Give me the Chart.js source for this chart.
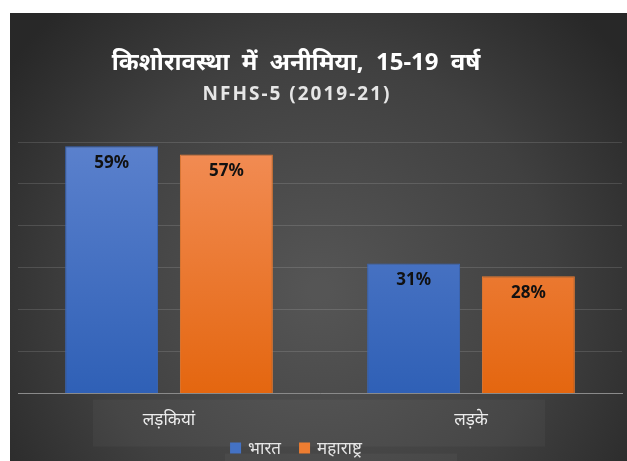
<!DOCTYPE html>
<html>
<head>
<meta charset="utf-8">
<script src="https://cdn.jsdelivr.net/npm/chart.js@4.4.1/dist/chart.umd.min.js"></script>
<style>
  body { margin: 0; background: #fff; }
  #wrap { position: absolute; left: 10px; top: 13px; width: 617px; height: 448px; }
</style>
</head>
<body>
<div id="wrap"><canvas id="chart"></canvas></div>
<script>
// data
const categories = ['लड़कियां', 'लड़के'];
const bharat = [59, 31];
const maharashtra = [57, 28];
const seriesNames = ['भारत', 'महाराष्ट्र'];
const seriesColors = ['#4472c4', '#ed7d31'];
const titleText = 'किशोरावस्था में अनीमिया, 15-19 वर्ष';
const subtitleText = 'NFHS-5 (2019-21)';

const FONT = "'Noto Sans', 'Open Sans', sans-serif";

// vertical gradient for bars
function barGradient(ctx, top, bottom) {
  const chart = ctx.chart;
  const area = chart.chartArea;
  if (!area) return bottom;
  const g = chart.ctx.createLinearGradient(0, area.top, 0, area.bottom);
  g.addColorStop(0, top);
  g.addColorStop(1, bottom);
  return g;
}

// dark radial background + title block
const bgPlugin = {
  id: 'bg',
  beforeDraw(chart) {
    const c = chart.ctx, w = chart.width, h = chart.height;
    const g = c.createRadialGradient(w * 0.5, h * 0.62, 10, w * 0.5, h * 0.62, w * 0.62);
    g.addColorStop(0, '#555555');
    g.addColorStop(0.6, '#404040');
    g.addColorStop(1, '#282828');
    c.save();
    c.fillStyle = g;
    c.fillRect(0, 0, w, h);
    // faint panels behind category labels and legend
    const xs = chart.scales.x;
    const a = chart.chartArea;
    c.fillStyle = 'rgba(255,255,255,0.035)';
    c.fillRect(xs.getPixelForValue(0) - 76, a.bottom + 6, xs.getPixelForValue(1) - xs.getPixelForValue(0) + 150, 47);
    c.fillRect(215, a.bottom + 60, 232, h - a.bottom - 60);

    c.fillStyle = '#ffffff';
    c.textAlign = 'center';
    c.textBaseline = 'middle';
    c.font = "bold 24px " + FONT;
    c.wordSpacing = '6px';
    c.fillText(titleText, 286, 50);
    c.wordSpacing = '0px';
    c.fillStyle = '#e6e6e6';
    c.font = "bold 19px " + FONT;
    c.letterSpacing = '2px';
    c.fillText(subtitleText, 287, 82);
    c.restore();
  }
};

// value labels inside bar tops + legend row
const labelPlugin = {
  id: 'vals',
  afterDatasetsDraw(chart) {
    const c = chart.ctx;
    c.save();
    c.font = "bold 17px " + FONT;
    c.fillStyle = '#111';
    c.textAlign = 'center';
    c.textBaseline = 'middle';
    chart.data.datasets.forEach((ds, i) => {
      chart.getDatasetMeta(i).data.forEach((bar, j) => {
        c.fillText(ds.data[j] + '%', bar.x, bar.y + 17);
      });
    });

    // legend
    c.font = "17px " + FONT;
    c.textAlign = 'left';
    const box = 11, gap = 7, itemGap = 18;
    const widths = seriesNames.map(n => box + gap + c.measureText(n).width);
    const total = widths.reduce((s, v) => s + v, 0) + itemGap * (widths.length - 1);
    let x = 286 - total / 2;
    const y = 435;
    seriesNames.forEach((n, i) => {
      c.fillStyle = seriesColors[i];
      c.fillRect(x, y - box / 2, box, box);
      c.fillStyle = '#e6e6e6';
      c.fillText(n, x + box + gap, y + 1);
      x += widths[i] + itemGap;
    });
    c.restore();
  }
};

new Chart(document.getElementById('chart'), {
  type: 'bar',
  data: {
    labels: categories,
    datasets: [{
      label: seriesNames[0],
      data: bharat,
      backgroundColor: ctx => barGradient(ctx, '#5b81cd', '#2f60b6'),
      borderColor: '#3a66b8',
      borderWidth: 1,
      categoryPercentage: 0.76,
      barPercentage: 0.81
    }, {
      label: seriesNames[1],
      data: maharashtra,
      backgroundColor: ctx => barGradient(ctx, '#f28d56', '#e4660f'),
      borderColor: '#e67a30',
      borderWidth: 1,
      categoryPercentage: 0.76,
      barPercentage: 0.81
    }]
  },
  options: {
    responsive: true,
    maintainAspectRatio: false,
    animation: false,
    layout: { padding: { left: 8, right: 5, top: 129, bottom: 23 } },
    plugins: {
      legend: { display: false },
      tooltip: { enabled: false }
    },
    scales: {
      x: {
        grid: { display: false },
        border: { color: '#8a8a8a', width: 1 },
        ticks: { color: '#ededed', font: { family: FONT, size: 17 }, padding: 8 }
      },
      y: {
        min: 0,
        max: 60,
        ticks: { display: false, stepSize: 10 },
        grid: { color: 'rgba(255,255,255,0.13)', drawTicks: false },
        border: { display: false }
      }
    }
  },
  plugins: [bgPlugin, labelPlugin]
});
</script>
</body>
</html>
